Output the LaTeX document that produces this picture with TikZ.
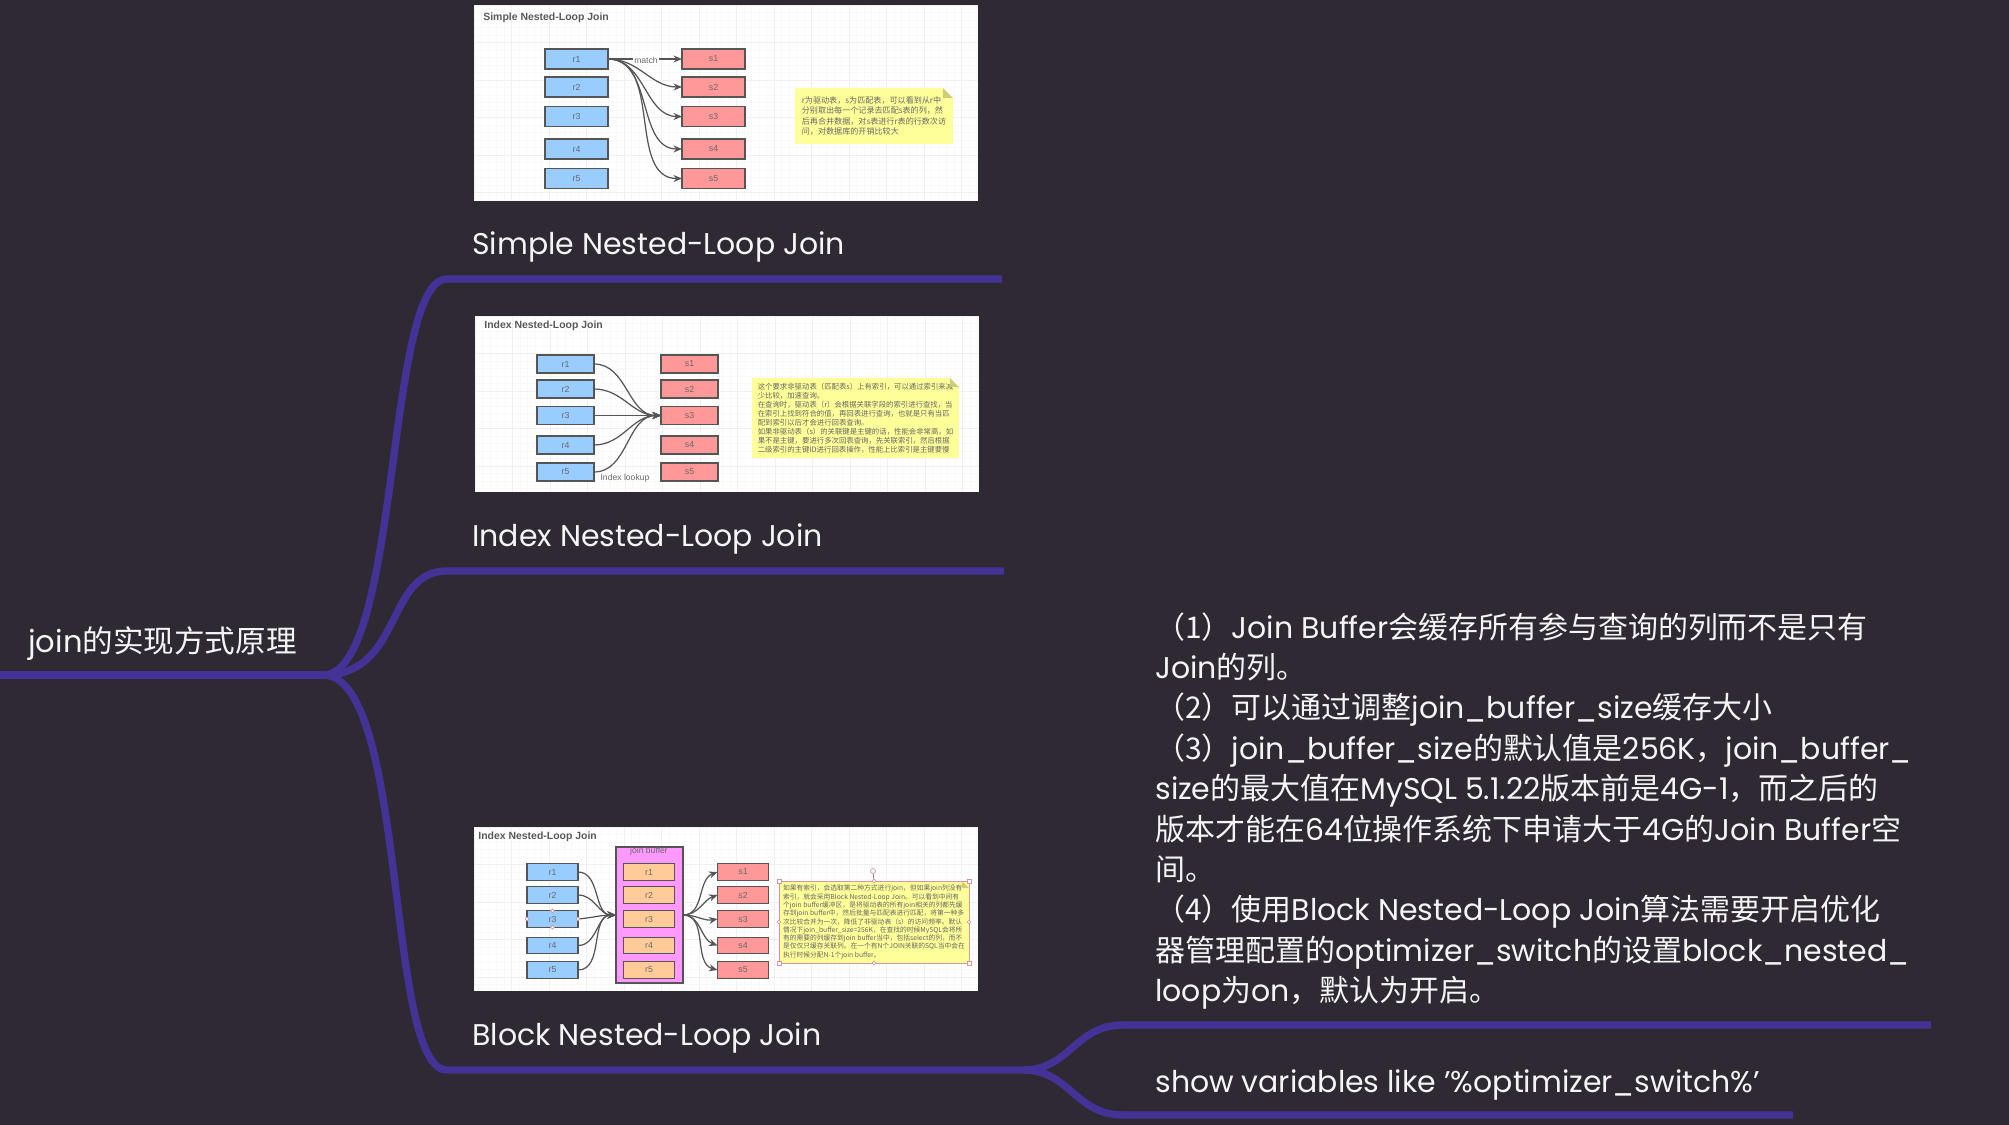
\documentclass[tikz,border=0pt]{standalone}
\usepackage{fontspec}
\setmainfont{Poppins}
\newfontfamily\cjk{Noto Sans CJK SC}
\newfontfamily\shotfont{Liberation Sans}
\newcommand{\zh}[1]{{\cjk #1}}
\usetikzlibrary{arrows.meta, positioning}
\definecolor{canvascolor}{RGB}{46, 41, 51}
\definecolor{branchcolor}{RGB}{68, 50, 150}
\definecolor{labelcolor}{RGB}{245, 245, 245}
\definecolor{drivercolor}{RGB}{153, 204, 255}
\definecolor{matchcolor}{RGB}{255, 153, 153}
\definecolor{notecolor}{RGB}{255, 255, 153}
\definecolor{foldcolor}{RGB}{205, 205, 120}
\definecolor{buffercolor}{RGB}{255, 153, 255}
\definecolor{cachecolor}{RGB}{255, 204, 153}
\definecolor{strokecolor}{RGB}{85, 85, 85}
\definecolor{inktext}{RGB}{105, 105, 105}
\definecolor{minorgrid}{RGB}{249, 249, 249}
\definecolor{majorgrid}{RGB}{240, 240, 240}
\definecolor{handlecolor}{RGB}{215, 150, 160}

\begin{document}
\begin{tikzpicture}[
    x=0.02cm, y=-0.02cm,
    branch/.style={draw=branchcolor, line width=4.2pt},
    topic/.style={anchor=base west, inner sep=0pt, text=labelcolor, font=\fontsize{17.05pt}{23pt}\selectfont},
    shot/.style={fill=white, inner sep=0pt, outer sep=0pt},
    title/.style={anchor=west, inner sep=0pt, text=black!65, font=\shotfont\fontsize{5.95pt}{7pt}\selectfont\bfseries},
    tablebox/.style={draw=strokecolor, line width=0.65pt, inner sep=0pt, outer sep=0pt, text=inktext, font=\shotfont\fontsize{5pt}{6pt}\selectfont},
    rbox/.style={tablebox, fill=drivercolor},
    sbox/.style={tablebox, fill=matchcolor},
    cbox/.style={tablebox, fill=cachecolor},
    sizeA/.style={minimum width=1.26cm, minimum height=0.4cm},
    sizeB/.style={minimum width=1.14cm, minimum height=0.36cm},
    sizeC/.style={minimum width=1.02cm, minimum height=0.33cm},
    notebox/.style={fill=notecolor, inner sep=0pt, outer sep=0pt, text=black!60, align=left},
    flow/.style={-{Stealth[length=1.7mm,width=1.4mm]}, draw=strokecolor, line width=0.7pt},
    small/.style={inner sep=0.5pt, text=inktext, font=\shotfont\fontsize{4.9pt}{6pt}\selectfont},
    handle/.style={circle, draw=handlecolor, fill=white, line width=0.4pt, inner sep=0pt, minimum size=2.2pt},
    corner/.style={rectangle, draw=handlecolor, fill=white, line width=0.4pt, inner sep=0pt, minimum size=2.2pt}
]
    \useasboundingbox (0,0) rectangle (2009,1125);
    \fill[canvascolor] (0,0) rectangle (2009,1125);

    % Mind map branches
    \coordinate (rootstart) at (0,675);
    \coordinate (rootsplit) at (323,675);
    \coordinate (simpleleft) at (447,279);
    \coordinate (simpleright) at (1002,279);
    \coordinate (indexleft) at (447,571);
    \coordinate (indexright) at (1004,571);
    \coordinate (blockleft) at (447,1070);
    \coordinate (blocksplit) at (1023,1070);
    \coordinate (notesleft) at (1123,1025);
    \coordinate (notesright) at (1931,1025);
    \coordinate (showleft) at (1123,1115);
    \coordinate (showright) at (1793,1115);

    \draw[branch] (rootstart) -- (rootsplit);
    \draw[branch] (rootsplit) .. controls +(78,0) and +(-62,0) .. (simpleleft) -- (simpleright);
    \draw[branch] (rootsplit) .. controls +(80,0) and +(-62,0) .. (indexleft) -- (indexright);
    \draw[branch] (rootsplit) .. controls +(85,0) and +(-62,0) .. (blockleft) -- (blocksplit);
    \draw[branch] (blocksplit) .. controls +(47,0) and +(-48,0) .. (notesleft) -- (notesright);
    \draw[branch] (blocksplit) .. controls +(47,0) and +(-48,0) .. (showleft) -- (showright);

    % Mind map texts
    \node[topic, font=\fontsize{17.4pt}{23pt}\selectfont] (rootlabel) at (28,652) {join\zh{的实现方式原理}};
    \node[topic] (simplelabel) at (472,255) {Simple Nested-Loop Join};
    \node[topic] (indexlabel) at (472,546) {Index Nested-Loop Join};
    \node[topic] (blocklabel) at (472,1045) {Block Nested-Loop Join};
    \node[topic] (showlabel) at (1155,1092) {show variables like \char39\%optimizer\_switch\%\char39};
    \node[topic, anchor=north west, align=left] (detail) at (1155,612) {%
        \zh{（1）}Join Buffer\zh{会缓存所有参与查询的列而不是只有}\\
        Join\zh{的列。}\\
        \zh{（2）可以通过调整}join\_buffer\_size\zh{缓存大小}\\
        \zh{（3）}join\_buffer\_size\zh{的默认值是}256K\zh{，}join\_buffer\_\\
        size\zh{的最大值在}MySQL 5.1.22\zh{版本前是}4G-1\zh{，而之后的}\\
        \zh{版本才能在}64\zh{位操作系统下申请大于}4G\zh{的}Join Buffer\zh{空}\\
        \zh{间。}\\
        \zh{（4）使用}Block Nested-Loop Join\zh{算法需要开启优化}\\
        \zh{器管理配置的}optimizer\_switch\zh{的设置}block\_nested\_\\
        loop\zh{为}on\zh{，默认为开启。}};

    % Simple Nested-Loop Join screenshot
    \node[shot, minimum width=10.08cm, minimum height=3.9cm] (shotA) at (726,102.5) {};
    \draw[minorgrid, step=0.15cm, shift={(shotA.north west)}] (0,0) grid (504,195);
    \draw[majorgrid, step=0.75cm, shift={(shotA.north west)}] (0,0) grid (504,195);
    \node[title] (titleA) at (483,18) {Simple Nested-Loop Join};
    \node[rbox, sizeA] (ra1) at (576.5,59) {r1};
    \node[rbox, sizeA] (ra2) at (576.5,87) {r2};
    \node[rbox, sizeA] (ra3) at (576.5,116.5) {r3};
    \node[rbox, sizeA] (ra4) at (576.5,149) {r4};
    \node[rbox, sizeA] (ra5) at (576.5,178.5) {r5};
    \node[sbox, sizeA] (sa1) at (713.5,59) {s1};
    \node[sbox, sizeA] (sa2) at (713.5,87) {s2};
    \node[sbox, sizeA] (sa3) at (713.5,116.5) {s3};
    \node[sbox, sizeA] (sa4) at (713.5,149) {s4};
    \node[sbox, sizeA] (sa5) at (713.5,178.5) {s5};
    \draw[flow] (ra1) -- (sa1);
    \draw[flow] (ra1.east) to[out=0, in=180] (sa2.west);
    \draw[flow] (ra1.east) to[out=0, in=180] (sa3.west);
    \draw[flow] (ra1.east) to[out=0, in=180] (sa4.west);
    \draw[flow] (ra1.east) to[out=0, in=180] (sa5.west);
    \node[small, fill=white] (matchlabel) at (646,60) {match};
    \node[notebox, minimum width=3.16cm, minimum height=1.12cm, font=\cjk\fontsize{4.6pt}{5.9pt}\selectfont] (noteA) at (874,116) {%
        r为驱动表，s为匹配表，可以看到从r中\\
        分别取出每一个记录去匹配s表的列，然\\
        后再合并数据，对s表进行r表的行数次访\\
        问，对数据库的开销比较大};
    \fill[white] (noteA.north east) ++(-10,0) -- ++(10,0) -- ++(0,10) -- cycle;
    \fill[foldcolor] (noteA.north east) ++(-10,0) -- ++(10,10) -- ++(-10,0) -- cycle;

    % Index Nested-Loop Join screenshot
    \node[shot, minimum width=10.08cm, minimum height=3.52cm] (shotB) at (727,404) {};
    \draw[minorgrid, step=0.15cm, shift={(shotB.north west)}] (0,0) grid (504,176);
    \draw[majorgrid, step=0.75cm, shift={(shotB.north west)}] (0,0) grid (504,176);
    \node[title] (titleB) at (484,326) {Index Nested-Loop Join};
    \node[rbox, sizeB] (rb1) at (565.5,364) {r1};
    \node[rbox, sizeB] (rb2) at (565.5,389) {r2};
    \node[rbox, sizeB] (rb3) at (565.5,415.5) {r3};
    \node[rbox, sizeB] (rb4) at (565.5,445) {r4};
    \node[rbox, sizeB] (rb5) at (565.5,472) {r5};
    \node[sbox, sizeB] (sb1) at (689.5,364) {s1};
    \node[sbox, sizeB] (sb2) at (689.5,389) {s2};
    \node[sbox, sizeB] (sb3) at (689.5,415.5) {s3};
    \node[sbox, sizeB] (sb4) at (689.5,445) {s4};
    \node[sbox, sizeB] (sb5) at (689.5,472) {s5};
    \draw[flow] (rb1.east) to[out=0, in=180] (sb3.west);
    \draw[flow] (rb2.east) to[out=0, in=180] (sb3.west);
    \draw[flow] (rb3) -- (sb3);
    \draw[flow] (rb4.east) to[out=0, in=180] (sb3.west);
    \draw[flow] (rb5.east) to[out=0, in=180] (sb3.west);
    \node[small] (lookuplabel) at (625,478) {Index lookup};
    \node[notebox, minimum width=4.14cm, minimum height=1.6cm, font=\cjk\fontsize{4.2pt}{5.1pt}\selectfont] (noteB) at (855.5,418) {%
        这个要求非驱动表（匹配表s）上有索引，可以通过索引来减\\
        少比较，加速查询。\\
        在查询时，驱动表（r）会根据关联字段的索引进行查找，当\\
        在索引上找到符合的值，再回表进行查询，也就是只有当匹\\
        配到索引以后才会进行回表查询。\\
        如果非驱动表（s）的关联键是主键的话，性能会非常高，如\\
        果不是主键，要进行多次回表查询，先关联索引，然后根据\\
        二级索引的主键ID进行回表操作，性能上比索引是主键要慢};
    \fill[white] (noteB.north east) ++(-9,0) -- ++(9,0) -- ++(0,9) -- cycle;
    \fill[foldcolor] (noteB.north east) ++(-9,0) -- ++(9,9) -- ++(-9,0) -- cycle;

    % Block Nested-Loop Join screenshot
    \node[shot, minimum width=10.08cm, minimum height=3.28cm] (shotC) at (726,909) {};
    \draw[minorgrid, step=0.15cm, shift={(shotC.north west)}] (0,0) grid (504,164);
    \draw[majorgrid, step=0.75cm, shift={(shotC.north west)}] (0,0) grid (504,164);
    \node[title] (titleC) at (478,837) {Index Nested-Loop Join};
    \node[tablebox, fill=buffercolor, minimum width=1.34cm, minimum height=2.72cm] (buffer) at (649.5,915) {};
    \node[small] (bufferlabel) at (649,851.5) {join buffer};
    \node[rbox, sizeC] (rc1) at (552.5,872) {r1};
    \node[rbox, sizeC] (rc2) at (552.5,895) {r2};
    \node[rbox, sizeC] (rc3) at (552.5,919) {r3};
    \node[rbox, sizeC] (rc4) at (552.5,945.5) {r4};
    \node[rbox, sizeC] (rc5) at (552.5,970) {r5};
    \node[cbox, sizeC] (cc1) at (649,872) {r1};
    \node[cbox, sizeC] (cc2) at (649,895) {r2};
    \node[cbox, sizeC] (cc3) at (649,919) {r3};
    \node[cbox, sizeC] (cc4) at (649,945.5) {r4};
    \node[cbox, sizeC] (cc5) at (649,970) {r5};
    \node[sbox, sizeC] (sc1) at (743,872) {s1};
    \node[sbox, sizeC] (sc2) at (743,895) {s2};
    \node[sbox, sizeC] (sc3) at (743,919) {s3};
    \node[sbox, sizeC] (sc4) at (743,945.5) {s4};
    \node[sbox, sizeC] (sc5) at (743,970) {s5};
    \draw[flow] (rc1.east) to[out=0, in=180] (buffer.west);
    \draw[flow] (rc2.east) to[out=0, in=180] (buffer.west);
    \draw[flow] (rc3.east) to[out=5, in=180] (buffer.west);
    \draw[flow] (rc4.east) to[out=0, in=180] (buffer.west);
    \draw[flow] (rc5.east) to[out=0, in=180] (buffer.west);
    \draw[flow] (buffer.east) to[out=0, in=200] (sc1.west);
    \draw[flow] (buffer.east) to[out=0, in=200] (sc2.west);
    \draw[flow] (buffer.east) to[out=0, in=190] (sc3.west);
    \draw[flow] (buffer.east) to[out=0, in=160] (sc4.west);
    \draw[flow] (buffer.east) to[out=0, in=165] (sc5.west);
    \node[notebox, draw=handlecolor, line width=0.4pt, minimum width=3.8cm, minimum height=1.64cm, font=\cjk\fontsize{3.85pt}{4.72pt}\selectfont] (noteC) at (874,922) {%
        如果有索引，会选取第二种方式进行join，但如果join列没有\\
        索引，就会采用Block Nested-Loop Join。可以看到中间有\\
        个join buffer缓冲区，是将驱动表的所有join相关的列都先缓\\
        存到join buffer中，然后批量与匹配表进行匹配，将第一种多\\
        次比较合并为一次，降低了非驱动表（s）的访问频率。默认\\
        情况下join\_buffer\_size=256K，在查找的时候MySQL会将所\\
        有的需要的列缓存到join buffer当中，包括select的列，而不\\
        是仅仅只缓存关联列。在一个有N个JOIN关联的SQL当中会在\\
        执行时候分配N-1个join buffer。};
    \fill[foldcolor] (noteC.north east) ++(-7,0) -- ++(7,7) -- ++(-7,0) -- cycle;

    % Selection handles
    \node[handle] (h1) at (rc3.north) {};
    \node[handle] (h2) at (rc3.south) {};
    \node[handle] (h3) at (rc3.west) {};
    \node[handle] (h4) at (rc3.east) {};
    \node[corner] (h5) at (noteC.north west) {};
    \node[corner] (h6) at (noteC.north east) {};
    \node[corner] (h7) at (noteC.south west) {};
    \node[corner] (h8) at (noteC.south east) {};
    \node[handle] (h9) at (noteC.north) {};
    \node[handle] (h10) at (noteC.south) {};
    \node[handle] (h11) at (noteC.west) {};
    \node[handle] (h12) at (noteC.east) {};
    \node[handle, minimum size=2.8pt] (rotate) at (873,871) {};
    \draw[draw=handlecolor!70!black, line width=0.4pt] (rotate) -- (h9);
\end{tikzpicture}
\end{document}
